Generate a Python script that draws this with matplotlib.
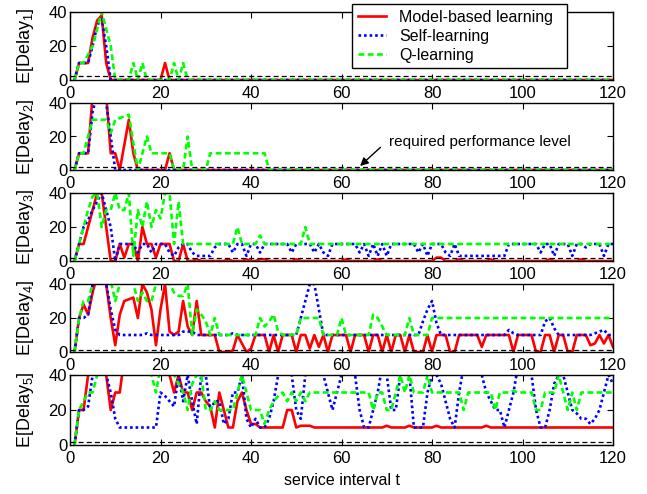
import numpy as np
import matplotlib
matplotlib.use('Agg')
import matplotlib.pyplot as plt
from matplotlib.lines import Line2D

plt.rcParams['font.family'] = ['Liberation Sans', 'DejaVu Sans']
plt.rcParams['mathtext.fontset'] = 'custom'
plt.rcParams['mathtext.rm'] = 'Liberation Sans'
plt.rcParams['mathtext.it'] = 'Liberation Sans'
plt.rcParams['mathtext.default'] = 'regular'

t = np.arange(1, 121)

# ---------------- Delay 1 ----------------
red1 = [0,10,10,10,25,35,38,10,0,0, 0,0,0,0,0,0,0,0,0,0,
        10,0,0,0,0,0,0,0,0,0, 0,0,0,0,0,0,0,0,0,0,
        0,0,0,0,0,0,0,0,0,0, 0,0,0,0,0,0,0,0,0,0,
        0,0,0,0,0,0,0,0,0,0, 0,0,0,0,0,0,0,0,0,0,
        0,0,0,0,0,0,0,0,0,0, 0,0,0,0,0,0,0,0,0,0,
        0,0,0,0,0,0,0,0,0,0, 0,0,0,0,0,0,0,0,0,0]
blue1 = [0,10,10,10,20,32,36,20,0,0, 0,0,0,0,0,0,0,0,0,0,
         0,0,0,0,0,0,0,0,0,0, 0,0,0,0,0,0,0,0,0,0,
         0,0,0,0,0,0,0,0,0,0, 0,0,0,0,0,0,0,0,0,0,
         0,0,0,0,0,0,0,0,0,0, 0,0,0,0,0,0,0,0,0,0,
         0,0,0,0,0,0,0,0,0,0, 0,0,0,0,0,0,0,0,0,0,
         0,0,0,0,0,0,0,0,0,0, 0,0,0,0,0,0,0,0,0,0]
green1 = [0,10,10,15,20,30,40,30,20,0, 0,0,0,10,0,10,0,0,0,0,
          0,0,10,0,10,0,0,0,0,0, 0,0,0,0,0,0,0,0,0,0,
          0,0,0,0,0,0,0,0,0,0, 0,0,0,0,0,0,0,0,0,0,
          0,0,0,0,0,0,0,0,0,0, 0,0,0,0,0,0,0,0,0,0,
          0,0,0,0,0,0,0,0,0,0, 0,0,0,0,0,0,0,0,0,0,
          0,0,0,0,0,0,0,0,0,0, 0,0,0,0,0,0,0,0,0,0]

# ---------------- Delay 2 ----------------
red2 = [0,10,10,10,45,50,50,45,10,10, 0,15,30,10,0,0,0,0,0,0,
        0,10,0,0,0,0,0,0,0,0, 0,0,0,0,0,0,0,0,0,0,
        0,0,0,0,0,0,0,0,0,0, 0,0,0,0,0,0,0,0,0,0,
        0,0,0,0,0,0,0,0,0,0, 0,0,0,0,0,0,0,0,0,0,
        0,0,0,0,0,0,0,0,0,0, 0,0,0,0,0,0,0,0,0,0,
        0,0,0,0,0,0,0,0,0,0, 0,0,0,0,0,0,0,0,0,0]
blue2 = [0,10,10,10,35,45,50,40,20,0, 0,0,0,0,0,0,0,0,0,0,
         0,0,0,0,0,0,0,0,0,0, 0,0,0,0,0,0,0,0,0,0,
         0,0,0,0,0,0,0,0,0,0, 0,0,0,0,0,0,0,0,0,0,
         0,0,0,0,0,0,0,0,0,0, 0,0,0,0,0,0,0,0,0,0,
         0,0,0,0,0,0,0,0,0,0, 0,0,0,0,0,0,0,0,0,0,
         0,0,0,0,0,0,0,0,0,0, 0,0,0,0,0,0,0,0,0,0]
green2 = [0,10,10,20,30,30,30,30,22,30, 31,32,33,16,0,10,20,10,10,10,
          10,10,0,0,0,20,0,0,0,0, 10,10,10,10,10,10,10,10,10,10,
          10,10,10,0,0,0,0,0,0,0, 0,0,0,0,0,0,0,0,0,0,
          0,0,0,0,0,0,0,0,0,0, 0,0,0,0,0,0,0,0,0,0,
          0,0,0,0,0,0,0,0,0,0, 0,0,0,0,0,0,0,0,0,0,
          0,0,0,0,0,0,0,0,0,0, 0,0,0,0,0,0,0,0,0,0]

# ---------------- Delay 3 ----------------
red3 = [0,10,10,20,30,40,40,20,0,0, 10,2,10,10,0,20,10,10,2,10,
        10,10,0,0,10,0,0,1,0,0, 0,0,0,0,1,0,0,0,1,0,
        0,1,1,0,0,0,0,0,0,1, 0,0,0,0,0,0,0,0,0,0,
        1,0,0,0,0,0,0,1,0,0, 0,0,0,0,0,0,0,0,0,0,
        2,2,0,0,0,1,0,0,0,0, 0,0,1,0,0,0,0,0,0,0,
        0,0,0,0,0,1,0,0,0,0, 0,0,1,0,0,0,0,0,0,0]
blue3 = [0,10,20,24,30,35,40,30,20,0, 10,10,10,10,5,10,10,5,10,10,
         10,5,3,8,10,10,5,3,3,3, 3,8,10,10,10,5,10,10,3,10,
         10,5,10,10,10,10,10,10,5,10, 10,10,10,5,10,5,3,10,10,10,
         10,10,10,5,10,3,10,3,10,3, 10,10,10,10,10,10,5,10,3,10,
         10,10,5,3,10,3,3,3,3,3, 3,3,3,3,3,3,10,10,10,10,
         10,10,10,5,10,10,3,10,10,10, 3,10,10,8,10,10,10,3,10,10]
green3 = [0,10,20,30,38,40,20,30,30,40, 30,30,40,3,30,20,35,20,30,25,
          40,40,10,35,10,10,10,10,10,10, 10,10,10,10,10,10,20,10,10,10,
          10,15,10,10,10,10,10,10,10,10, 10,20,10,10,10,10,10,10,10,10,
          10,10,10,10,10,10,10,10,10,10, 10,10,10,10,10,10,10,10,10,10,
          10,10,10,10,10,10,10,10,10,10, 10,10,10,10,10,10,10,10,10,10,
          10,10,10,10,10,10,10,10,10,10, 10,10,10,10,10,10,10,10,10,10]

# ---------------- Delay 4 ----------------
red4 = [0,20,28,22,35,45,50,40,20,4, 22,30,31,32,20,40,35,25,4,25,
        40,12,10,12,30,15,10,30,10,10, 10,10,0,0,0,1,10,5,0,2,
        10,10,10,0,10,0,10,10,10,0, 10,10,2,10,3,10,0,10,10,10,
        10,0,10,10,10,0,10,10,0,10, 0,10,10,0,10,0,0,0,10,0,
        10,10,10,0,0,10,10,10,10,10, 3,10,10,10,10,10,10,0,10,10,
        10,10,0,0,10,10,0,10,10,0, 0,10,10,10,4,5,10,5,10,3]
blue4 = [0,20,20,22,40,50,50,40,25,13, 10,10,10,10,10,10,11,10,10,10,
         10,10,10,10,12,12,12,10,10,10, 10,10,10,10,10,11,10,10,10,10,
         10,10,10,10,10,10,10,10,10,10, 20,30,40,40,25,10,10,10,10,10,
         10,10,10,10,10,10,10,10,10,10, 10,10,10,10,10,10,10,18,25,30,
         17,10,10,10,10,10,10,10,10,10, 10,10,10,10,10,10,13,11,10,10,
         10,10,10,10,18,20,14,10,10,10, 10,10,10,10,10,11,12,13,10,10]
green4 = [0,20,30,30,40,45,45,45,42,30, 40,45,45,40,30,35,30,30,40,45,
          45,40,35,33,33,40,10,25,22,18, 10,20,10,10,10,10,10,10,10,10,
          10,20,15,18,22,12,10,10,10,10, 20,20,20,20,20,10,10,10,10,20,
          10,10,10,10,10,10,22,20,15,10, 10,10,10,10,20,10,10,10,10,20,
          20,20,20,20,20,20,20,20,20,20, 20,20,20,20,20,20,20,20,20,20,
          20,20,20,20,20,20,20,20,20,20, 20,20,20,20,20,20,20,20,20,20]

# ---------------- Delay 5 ----------------
red5 = [0,20,20,40,45,45,45,40,20,30, 30,50,50,50,50,50,50,50,50,50,
        50,40,30,40,30,30,20,30,30,25, 22,10,30,20,10,10,25,30,20,12,
        12,10,10,10,10,10,10,20,20,10, 11,11,11,10,10,10,10,10,10,10,
        10,10,10,10,10,10,10,10,10,11, 10,10,10,10,11,10,10,10,10,10,
        11,10,10,10,10,10,10,10,10,10, 10,11,10,10,10,10,10,10,10,10,
        10,10,10,10,10,10,10,10,10,10, 10,10,10,10,10,10,10,10,10,10]
blue5 = [0,20,20,22,40,50,50,40,30,15, 10,10,10,10,10,10,10,10,10,30,
         28,25,22,40,25,40,25,12,40,40, 20,25,25,12,15,30,30,40,15,10,
         15,10,10,15,25,40,50,50,40,20, 15,40,50,50,50,40,30,20,30,40,
         50,50,40,20,10,10,20,30,45,40, 20,20,40,45,40,10,10,10,30,40,
         40,35,25,15,10,30,45,50,50,50, 40,30,25,20,20,10,20,30,45,50,
         45,40,20,10,10,20,35,40,40,30, 20,18,15,15,12,15,20,30,40,35]
green5 = [0,20,25,30,30,40,45,45,45,45, 45,45,45,45,45,45,45,40,30,45,
          45,45,40,35,30,20,35,40,40,20, 20,25,20,20,20,20,30,40,30,20,
          20,20,12,20,25,28,30,25,30,25, 30,25,30,30,30,30,30,30,30,30,
          30,30,30,30,30,30,20,30,30,20, 20,30,40,30,40,30,30,30,40,30,
          30,30,30,30,30,30,20,30,30,30, 30,30,30,20,30,30,30,31,30,30,
          30,30,20,20,30,30,30,40,30,20, 30,20,30,30,30,30,30,30,30,30]

required_level = [2.5, 2, 2, 1.2, 2]
series_labels = ['Model-based learning', 'Self-learning', 'Q-learning']
xticks = [0, 20, 40, 60, 80, 100, 120]
yticks = [0, 20, 40]

panels = [(red1, blue1, green1), (red2, blue2, green2), (red3, blue3, green3),
          (red4, blue4, green4), (red5, blue5, green5)]
for p in panels:
    for s in p:
        assert len(s) == 120

W, H = 647, 494
fig = plt.figure(figsize=(W / 100, H / 100), dpi=100)
# pixel extents (top, bottom) of each panel
extents = [(12, 80), (103, 170), (193, 261), (284, 352), (375, 445)]
x0px, x1px = 70, 613

RED = (1, 0, 0)
BLUE = (0, 0, 1)
GREEN = (0, 1, 0)
red_kw = dict(color=RED, lw=1.9, linestyle='-')
blue_kw = dict(color=BLUE, lw=1.9, linestyle=(0, (1, 1.1)))
green_kw = dict(color=GREEN, lw=1.9, linestyle=(0, (2.2, 1.3)))

axes = []
for i, ((top, bot), (r, b, g)) in enumerate(zip(extents, panels)):
    ax = fig.add_axes([x0px / W, 1 - bot / H, (x1px - x0px) / W, (bot - top) / H])
    ax.set_facecolor('none')
    ax.plot(t, r, **red_kw)
    ax.plot(t, b, **blue_kw)
    ax.plot(t, g, **green_kw)
    ax.axhline(required_level[i], color='k', lw=0.9, linestyle=(0, (4, 2.5)))
    ax.set_xlim(0, 120)
    ax.set_ylim(0, 40)
    ax.set_xticks(xticks)
    ax.set_yticks(yticks)
    ax.tick_params(direction='in', top=True, right=True, length=4, width=0.8,
                   labelsize=12, color='k')
    ax.tick_params(axis='x', pad=4)
    ax.tick_params(axis='y', pad=2)
    for sp in ax.spines.values():
        sp.set_linewidth(1.0)
    ax.set_ylabel(f'E[Delay$_{{{i+1}}}$]', fontsize=13)
    ax.yaxis.set_label_coords(-0.062, 0.5)
    axes.append(ax)

axes[-1].set_xlabel('service interval t', fontsize=11.5, labelpad=5)

# annotation in panel 2
axes[1].annotate('', xy=(64.1, 2.4), xytext=(68.6, 13.5),
                 arrowprops=dict(arrowstyle='-|>', color='k', lw=1.0,
                                 mutation_scale=12, shrinkA=0, shrinkB=0))
axes[1].text(70.5, 16.8, 'required performance level', fontsize=11,
             va='center', ha='left')

handles = [Line2D([], [], **red_kw), Line2D([], [], **blue_kw),
           Line2D([], [], **green_kw)]
leg = fig.legend(handles, series_labels, loc='upper left',
                 bbox_to_anchor=(352 / W, 1 - 71 / H, 215 / W, 67 / H),
                 mode='expand', borderaxespad=0, fancybox=False,
                 edgecolor='k', framealpha=1, fontsize=11.5,
                 handlelength=1.8, handletextpad=0.8, labelspacing=0.25,
                 borderpad=0.35)
leg.get_frame().set_linewidth(1.0)

fig.savefig('out.png', dpi=100)
